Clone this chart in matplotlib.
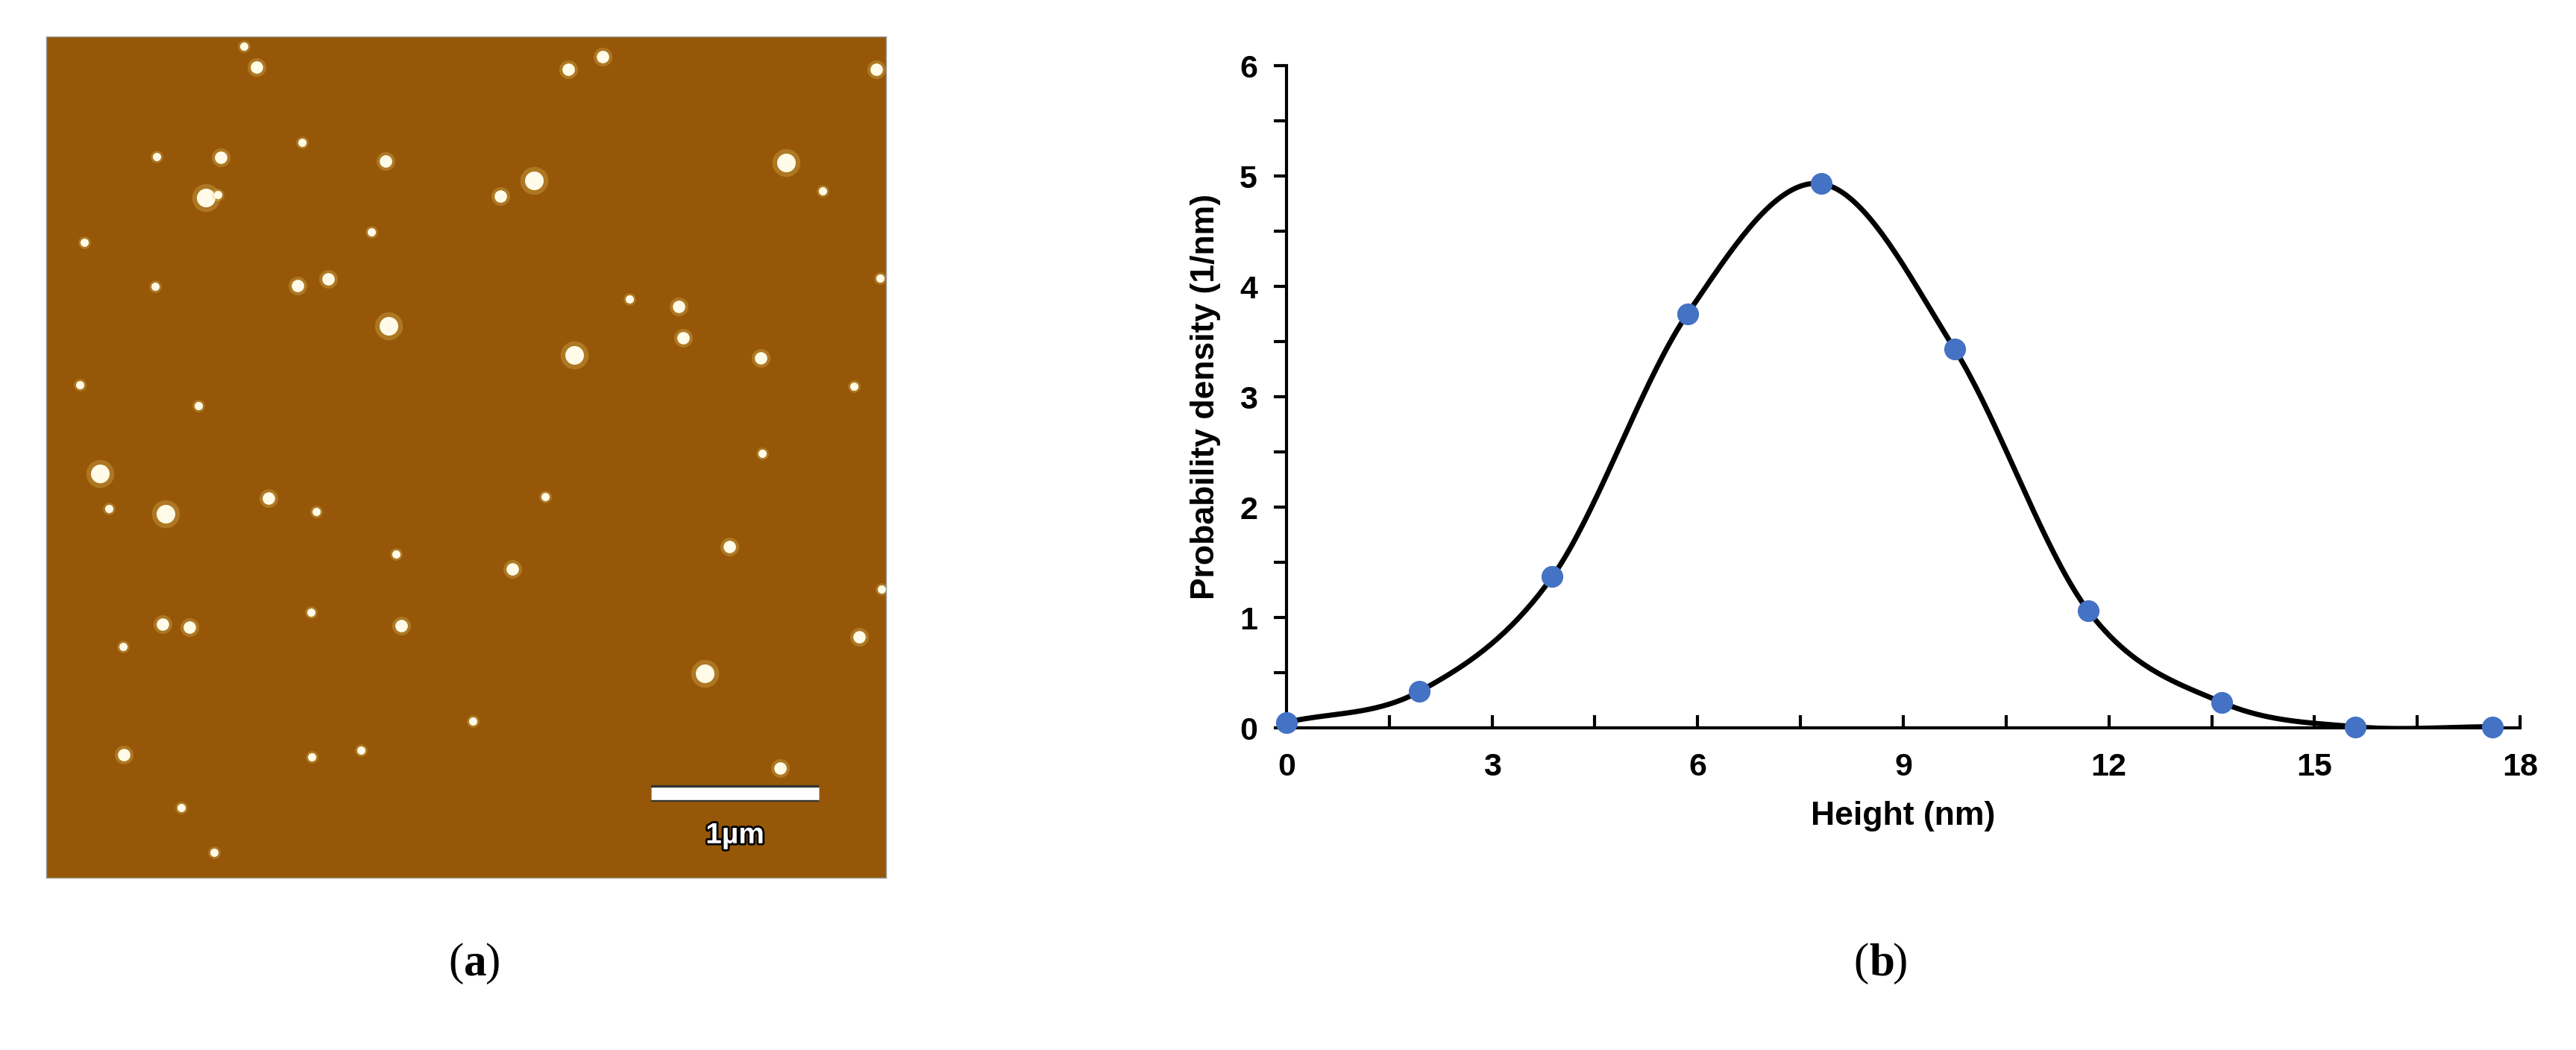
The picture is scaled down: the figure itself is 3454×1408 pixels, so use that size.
import numpy as np
import matplotlib
matplotlib.use("Agg")
import matplotlib.pyplot as plt
import matplotlib.patheffects as pe

# ---- panel (b) data ----
height_nm = [0.0, 1.94, 3.88, 5.85, 7.8, 9.75, 11.7, 13.65, 15.6, 17.6]
density = [0.05, 0.33, 1.37, 3.75, 4.93, 3.43, 1.06, 0.23, 0.01, 0.01]
x_ticks = [0, 3, 6, 9, 12, 15, 18]
y_ticks = [0, 1, 2, 3, 4, 5, 6]

# ---- panel (a) particle positions (fraction of image, from top-left) and sizes ----
px_u = [342,360,797,845,1228,220,309,423,540,288,305,701,748,1102,1153,118,521,217,417,460,1233,882,951,957,545,805,1066,112,1197,278,1068,140,153,232,376,443,764,1022,555,718,436,228,265,562,173,1204,988,663,174,437,506,1093,254,300,1236]
px_v = [72,103,106,88,107,236,237,215,243,298,293,295,272,245,287,364,348,430,428,419,417,448,459,506,488,532,536,576,578,607,678,708,760,768,745,765,743,817,828,850,915,932,937,935,966,951,1006,1077,1127,1130,1120,1147,1205,1272,880]
px_size = list("smmmmsmsmLsmLLssssmmssmmLLmssssLsLmssmsmsmmmsmLsmssmsss")
scale_bar_um = 1.0
image_um = 5.0

def catmull(x, y, n=40):
    x = np.asarray(x, float); y = np.asarray(y, float)
    P = np.column_stack([x, y])
    P = np.vstack([P[0] - (P[1] - P[0]), P, P[-1] + (P[-1] - P[-2])])
    out = []
    t = np.linspace(0, 1, n)[:, None]
    for i in range(1, len(P) - 2):
        p0, p1, p2, p3 = P[i-1], P[i], P[i+1], P[i+2]
        seg = 0.5 * ((2*p1) + (-p0 + p2)*t + (2*p0 - 5*p1 + 4*p2 - p3)*t**2 + (-p0 + 3*p1 - 3*p2 + p3)*t**3)
        out.append(seg)
    out = np.vstack(out)
    return out[:, 0], out[:, 1]

fig = plt.figure(figsize=(34.54, 14.08), dpi=100)
fig.patch.set_facecolor("white")

# ---- panel (a) ----
axa = fig.add_axes([0.018, 0.164, 0.326, 0.801])
axa.set_facecolor("#965808")
axa.set_xlim(0, image_um); axa.set_ylim(image_um, 0)
u = (np.array(px_u) - 65) / 1177 * image_um
v = (np.array(px_v) - 58) / 1252 * image_um
sz_map = {"s": 8, "m": 12, "L": 18}
for ui, vi, si in zip(u, v, px_size):
    ms = sz_map[si]
    axa.plot(ui, vi, "o", color="#e8c060", ms=ms * 1.5, alpha=0.3, mec="none")
    axa.plot(ui, vi, "o", color="#fffbe8", ms=ms, mec="none")
axa.plot([3.6, 3.6 + scale_bar_um], [4.5, 4.5], color="white", lw=12, solid_capstyle="butt",
         path_effects=[pe.Stroke(linewidth=16, foreground="#333333"), pe.Normal()])
axa.text(4.1, 4.75, "1µm", color="white", fontsize=28, fontweight="bold", ha="center", va="center",
         family="Liberation Sans", path_effects=[pe.withStroke(linewidth=4, foreground="black")])
axa.set_xticks([]); axa.set_yticks([])
for s in axa.spines.values():
    s.set_color("#999999"); s.set_linewidth(1)

# ---- panel (b) ----
ax = fig.add_axes([0.4994, 0.3068, 0.4789, 0.6307])
cx, cy = catmull(height_nm, density)
ax.plot(cx, cy, color="black", lw=5, zorder=2)
ax.plot(height_nm, density, "o", color="#4472c4", ms=21, mec="none", zorder=3, clip_on=False)
ax.set_xlim(0, 18); ax.set_ylim(0, 6)
ax.set_xticks(x_ticks); ax.set_yticks(y_ticks)
ax.set_xticks(np.arange(0, 18.01, 1.5), minor=True)
ax.set_yticks(np.arange(0, 6.01, 0.5), minor=True)
for s in ["top", "right"]:
    ax.spines[s].set_visible(False)
for s in ["left", "bottom"]:
    ax.spines[s].set_linewidth(3)
ax.tick_params(axis="x", which="both", direction="in", length=12, width=3, pad=24)
ax.tick_params(axis="y", which="both", direction="out", length=12, width=3, pad=16)
for lab in ax.get_xticklabels() + ax.get_yticklabels():
    lab.set_fontsize(31); lab.set_fontweight("bold"); lab.set_family("Liberation Sans")
ax.set_xlabel("Height (nm)", fontsize=32, fontweight="bold", family="Liberation Sans", labelpad=18)
ax.set_ylabel("Probability density (1/nm)", fontsize=32, fontweight="bold", family="Liberation Sans", labelpad=18)

fig.text(0.180, 0.082, "(", fontsize=44, family="Liberation Serif", ha="right", va="center")
fig.text(0.180, 0.082, "a", fontsize=44, family="Liberation Serif", fontweight="bold", ha="left", va="center")
fig.text(0.1882, 0.082, ")", fontsize=44, family="Liberation Serif", ha="left", va="center")
fig.text(0.7255, 0.082, "(", fontsize=44, family="Liberation Serif", ha="right", va="center")
fig.text(0.7255, 0.082, "b", fontsize=44, family="Liberation Serif", fontweight="bold", ha="left", va="center")
fig.text(0.7345, 0.082, ")", fontsize=44, family="Liberation Serif", ha="left", va="center")

fig.savefig("out.png", dpi=100, facecolor="white")
